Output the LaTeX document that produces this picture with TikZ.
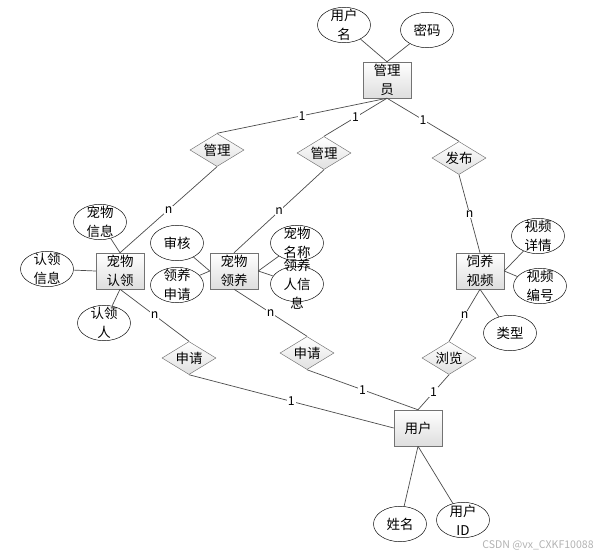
\documentclass[tikz,border=0pt]{standalone}
\usepackage{fontspec}
\setmainfont{Noto Sans CJK SC}
\usepackage{tikz}
\usetikzlibrary{shapes.geometric,shadows}

\begin{document}
\begin{tikzpicture}[x=0.3mm,y=-0.3mm,
 font=\fontsize{11.5}{16}\selectfont,
 entity/.style={rectangle,draw=black!55,top color=white,bottom color=black!13,
  drop shadow={shadow xshift=1.2pt,shadow yshift=-1.2pt,fill=black!40,opacity=0.6},
  minimum width=14.4mm,minimum height=10.8mm,inner sep=0.5pt,align=center},
 attr/.style={ellipse,draw=black,fill=white,minimum width=15.9mm,minimum height=10.6mm,
  inner xsep=0pt,inner ysep=-12pt,align=center},
 rel/.style={diamond,draw=black!55,top color=white,bottom color=black!12,aspect=1.6,
  minimum width=16.2mm,minimum height=9.9mm,inner sep=0pt},
 conn/.style={draw=black!70,line width=0.6pt},
 card/.style={fill=white,inner sep=0.6pt,font=\fontsize{10.5}{12}\selectfont}]
\useasboundingbox (0,0) rectangle (599,557);
\foreach \x/\y/\n/\t in {387/80/gly/{管理\\员},120/271/cwrl/{宠物\\认领},
 234/271/cwly/{宠物\\领养},480/271/syps/{饲养\\视频},418/428/yh/{用户}}
 \node[entity] (\n) at (\x,\y) {\t};
\foreach \x/\y/\n/\t in {344/25/yhm/{用户\\名},427/30/mm/{密码},
 100/222/cwxx/{宠物\\信息},47/269/rlxx/{认领\\信息},104/323/rlr/{认领\\人},
 177/243/sh/{审核},177/285/lysq/{领养\\申请},297/243/cwmc/{宠物\\名称},
 297/284/lyrxx/{领养\\人信\\息},538/236/spxq/{视频\\详情},540/286/spbh/{视频\\编号},
 510/333/lx/{类型},400/524/xm/{姓名},463/520/yhid/{用户\\ID}}
 \node[attr] (\n) at (\x,\y) {\t};
\foreach \x/\y/\n/\t in {217/150/gla/管理,324/153/glb/管理,459/158/fb/发布,
 189/358/sqa/申请,307/353/sqb/申请,449/358/ll/浏览}
 \node[rel] (\n) at (\x,\y) {\t};
\foreach \a/\b in {yhm/gly.north,mm/gly.north,cwxx/cwrl.north,rlxx/cwrl.west,
 rlr/cwrl.south,sh/cwly.west,lysq/cwly.west,cwmc/cwly.east,lyrxx/cwly.east,
 spxq/syps.east,spbh/syps.east,lx/syps.south,xm/yh.south,yhid/yh.south}
 \draw[conn] (\a) -- (\b);
\foreach \a/\b/\c in {gly.south/gla.north/1,gly.south/glb.north/1,gly.south/fb.north/1,
 gla.south/cwrl.north/n,glb.south/cwly.north/n,fb.south/syps.north/n,
 cwrl.south/sqa.north/n,cwly.south/sqb.north/n,sqa.south/yh.west/1,
 sqb.south/yh.north/1,ll.south/yh.north/1,ll.north/syps.south/n}
 \draw[conn] (\a) -- node[card]{\c} (\b);
\node[text=black!30,font=\fontsize{9}{11}\selectfont] (wm) at (538,545) {CSDN @vx\_CXKF10088};
\end{tikzpicture}
\end{document}
